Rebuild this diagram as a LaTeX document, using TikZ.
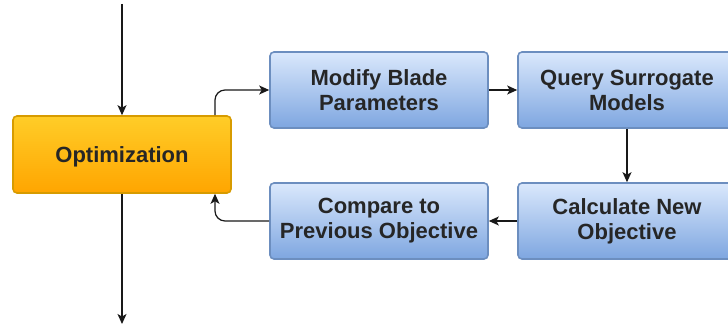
\documentclass[tikz,border=0pt]{standalone}
\usepackage{fontspec}
\setmainfont{Liberation Sans}
\usetikzlibrary{arrows.meta}
\definecolor{bluetop}{HTML}{DAE8FC}
\definecolor{bluebot}{HTML}{7EA6E0}
\definecolor{blueline}{HTML}{6C8EBF}
\definecolor{orangetop}{HTML}{FFCD28}
\definecolor{orangebot}{HTML}{FFA500}
\definecolor{orangeline}{HTML}{D79B00}
\tikzset{
  procbox/.style={rounded corners=4pt, draw=blueline, line width=1.6pt,
    top color=bluetop, bottom color=bluebot,
    minimum width=218pt, minimum height=76pt, inner sep=0pt,
    align=center, font=\fontsize{22pt}{25pt}\selectfont\bfseries, text=black!85},
  optbox/.style={procbox, draw=orangeline, top color=orangetop, bottom color=orangebot,
    minimum height=77pt, text depth=0pt},
  flow/.style={line width=1.2pt, draw=black!90,
    -{Stealth[length=10pt,width=9pt,inset=2.5pt]}}
}
\begin{document}
\begin{tikzpicture}[x=1pt, y=-1pt]
\useasboundingbox (0,0) rectangle (728,331);
\begin{scope}
\clip (0,0) rectangle (728,331);
\node[optbox]  (opt)    at (122,154.5) {Optimization};
\node[procbox] (modify) at (379,90)  {Modify Blade\\Parameters};
\node[procbox] (query)  at (627,90)  {Query Surrogate\\Models};
\node[procbox] (calc)   at (627,221) {Calculate New\\Objective};
\node[procbox] (comp)   at (379,221) {Compare to\\Previous Objective};
\end{scope}
\coordinate (in)  at (122,4);
\coordinate (out) at (122,324);
\draw[flow] (in) -- (opt.north);
\draw[flow] (opt.south) -- (out);
\draw[flow, rounded corners=10pt] (opt.north -| 215,0) |- (modify.west);
\draw[flow] (modify.east) -- (query.west);
\draw[flow] (query.south -| 627,0) -- (calc.north -| 627,0);
\draw[flow] (calc.west) -- (comp.east);
\draw[flow, rounded corners=10pt] (comp.west) -| (opt.south -| 215,0);
\end{tikzpicture}
\end{document}
